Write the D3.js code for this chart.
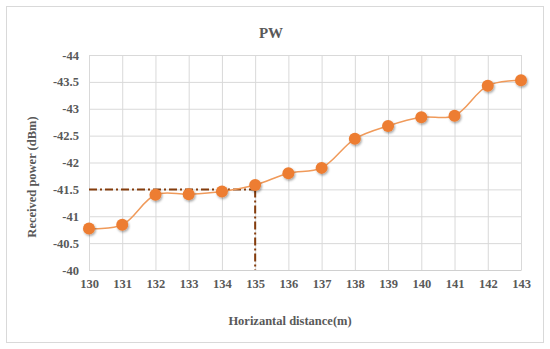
<!DOCTYPE html>
<html>
<head>
<meta charset="utf-8">
<script src="https://cdn.jsdelivr.net/npm/d3@7"></script>
<style>
  body { margin: 0; background: #fff; }
  svg { display: block; font-family: "Liberation Serif", "Times New Roman", serif; }
</style>
</head>
<body>
<div id="chart"></div>
<script>
const width = 550;
const height = 349;

// data
const distances = [130, 131, 132, 133, 134, 135, 136, 137, 138, 139, 140, 141, 142, 143];
const power = [-40.77, -40.84, -41.40, -41.41, -41.46, -41.58, -41.80, -41.90, -42.44, -42.68, -42.84, -42.87, -43.43, -43.53];
const yTicks = [-40, -40.5, -41, -41.5, -42, -42.5, -43, -43.5, -44];
const markX = 135;
const markY = -41.5;

const margin = { top: 55, right: 29, bottom: 79, left: 89 };

const svg = d3.select('#chart')
  .append('svg')
  .attr('width', width)
  .attr('height', height);

// drop shadow for markers
const defs = svg.append('defs');
const shadow = defs.append('filter').attr('id', 'shadow')
  .attr('x', '-50%').attr('y', '-50%').attr('width', '200%').attr('height', '200%');
shadow.append('feDropShadow')
  .attr('dx', 1).attr('dy', 1.5).attr('stdDeviation', 1.2)
  .attr('flood-color', '#000').attr('flood-opacity', 0.35);

// outer border
svg.append('rect')
  .attr('x', 6.5).attr('y', 6.5)
  .attr('width', 537).attr('height', 336)
  .attr('fill', '#fff')
  .attr('stroke', '#d9d9d9');

const xScale = d3.scaleLinear()
  .domain([130, 143])
  .range([margin.left, width - margin.right]);

const yScale = d3.scaleLinear()
  .domain([-40, -44])
  .range([height - margin.bottom, margin.top]);

// gridlines
const grid = svg.append('g').attr('class', 'grid');
grid.append('g')
  .attr('transform', `translate(${margin.left},0)`)
  .call(d3.axisLeft(yScale).tickValues(yTicks).tickFormat('')
    .tickSize(-(width - margin.left - margin.right)))
  .call(g => g.select('.domain').remove());
grid.append('g')
  .attr('transform', `translate(0,${height - margin.bottom})`)
  .call(d3.axisBottom(xScale).tickValues(distances).tickFormat('')
    .tickSize(-(height - margin.top - margin.bottom)))
  .call(g => g.select('.domain').remove());
grid.selectAll('line').attr('stroke', '#d9d9d9').attr('stroke-width', 1);

// x axis
const xAxis = svg.append('g')
  .attr('transform', `translate(0,${height - margin.bottom})`)
  .call(d3.axisBottom(xScale).tickValues(distances).tickFormat(d3.format('d')).tickSize(0).tickPadding(9));
xAxis.select('.domain').attr('stroke', '#d0d0d0');

// y axis
const yAxis = svg.append('g')
  .attr('transform', `translate(${margin.left},0)`)
  .call(d3.axisLeft(yScale).tickValues(yTicks).tickFormat(d => String(d)).tickSize(0).tickPadding(10));
yAxis.select('.domain').remove();

svg.selectAll('.tick text')
  .attr('fill', '#595959')
  .style('font-size', '12.5px')
  .style('font-weight', 'bold')
  .style('font-family', '"Liberation Serif", serif');

// dash-dot reference lines
const refLine = svg.append('g')
  .attr('stroke', '#843c0c')
  .attr('stroke-width', 2)
  .attr('stroke-dasharray', '8,3,2,3')
  .attr('fill', 'none');
refLine.append('line')
  .attr('x1', xScale(130)).attr('x2', xScale(markX))
  .attr('y1', yScale(markY)).attr('y2', yScale(markY));
refLine.append('line')
  .attr('x1', xScale(markX)).attr('x2', xScale(markX))
  .attr('y1', yScale(markY)).attr('y2', yScale(-40));

// series
const points = distances.map((d, i) => ({ x: d, y: power[i] }));

const line = d3.line()
  .x(d => xScale(d.x))
  .y(d => yScale(d.y))
  .curve(d3.curveCatmullRom.alpha(0.5));

svg.append('path')
  .datum(points)
  .attr('d', line)
  .attr('fill', 'none')
  .attr('stroke', '#f09a5a')
  .attr('stroke-width', 1.5);

svg.append('g')
  .selectAll('circle')
  .data(points)
  .join('circle')
  .attr('cx', d => xScale(d.x))
  .attr('cy', d => yScale(d.y))
  .attr('r', 6)
  .attr('fill', '#ed7d31')
  .attr('filter', 'url(#shadow)');

// titles
svg.append('text')
  .attr('x', 271).attr('y', 38)
  .attr('text-anchor', 'middle')
  .attr('fill', '#595959')
  .style('font-size', '15px')
  .style('font-weight', 'bold')
  .text('PW');

svg.append('text')
  .attr('x', 290).attr('y', 325)
  .attr('text-anchor', 'middle')
  .attr('fill', '#595959')
  .style('font-size', '12.5px')
  .style('font-weight', 'bold')
  .text('Horizantal distance(m)');

svg.append('text')
  .attr('transform', `translate(36,177) rotate(-90)`)
  .attr('text-anchor', 'middle')
  .attr('fill', '#595959')
  .style('font-size', '12.5px')
  .style('font-weight', 'bold')
  .text('Received power (dBm)');
</script>
</body>
</html>
